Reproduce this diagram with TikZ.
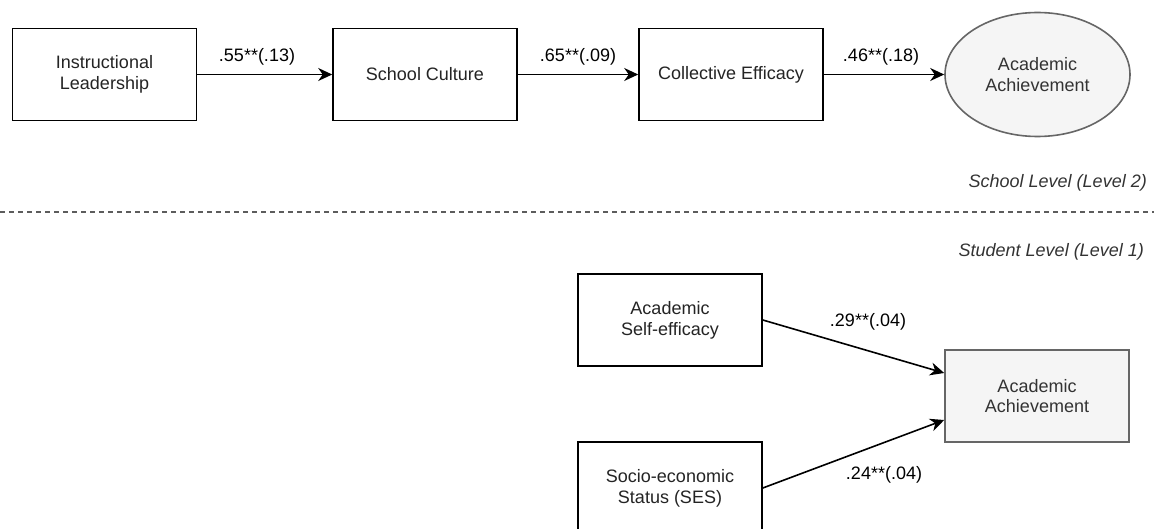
\documentclass[tikz,border=0pt]{standalone}
\usepackage{fontspec}
\setmainfont{Liberation Sans}
\usetikzlibrary{arrows.meta,shapes.geometric}
\definecolor{grayfill}{HTML}{F5F5F5}
\definecolor{grayline}{HTML}{666666}
\definecolor{txtgray}{HTML}{333333}
\begin{document}
\begin{tikzpicture}[x=1pt,y=-1pt,
  every node/.style={font=\fontsize{18}{20.8}\selectfont, inner sep=0pt},
  box/.style={draw=black, line width=1.6pt, fill=white, minimum width=184pt, minimum height=92pt, align=center, text=txtgray!70!black},
  graybox/.style={draw=grayline, line width=1.6pt, fill=grayfill, minimum width=184pt, minimum height=92pt, align=center, text=txtgray},
  grayell/.style={ellipse, draw=grayline, line width=1.6pt, fill=grayfill, minimum width=185pt, minimum height=124pt, align=center, text=txtgray},
  arr/.style={-{Stealth[length=14pt,width=13pt,inset=4.5pt]}, line width=1.6pt, black},
  coef/.style={text=black},
  lvl/.style={font=\fontsize{18}{21.6}\selectfont\itshape, anchor=east, text=txtgray}
]
\useasboundingbox (0,0) rectangle (1154,529);

% School level
\node[box] (il) at (104.5,74.5) {Instructional\\Leadership};
\node[box] (sc) at (425,74.5) {School Culture};
\node[box] (ce) at (731,74.5) {Collective Efficacy};
\node[grayell] (aa1) at (1037.5,74.5) {Academic\\Achievement};

\draw[arr] (il.east) -- (sc.west);
\draw[arr] (sc.east) -- (ce.west);
\draw[arr] (ce.east) -- (aa1.west);

\node[coef] (c1) at (257,57) {.55**(.13)};
\node[coef] (c2) at (578,57) {.65**(.09)};
\node[coef] (c3) at (881,57) {.46**(.18)};

\node[lvl] (lv2) at (1147,183) {School Level (Level 2)};
\coordinate (dl) at (0,212);
\coordinate (dr) at (1154,212);
\draw[grayline!90!black, line width=1.5pt, dash pattern=on 5pt off 4pt] (dl) -- (dr);
\node[lvl] (lv1) at (1144,252) {Student Level (Level 1)};

% Student level
\node[box] (ase) at (670,320) {Academic\\Self-efficacy};
\node[box] (ses) at (670,488) {Socio-economic\\Status (SES)};
\node[graybox] (aa2) at (1037,396) {Academic\\Achievement};

\draw[arr] (ase.east) -- ([yshift=23pt]aa2.west);
\draw[arr] (ses.east) -- ([yshift=-24pt]aa2.west);

\node[coef] (c4) at (868,322) {.29**(.04)};
\node[coef] (c5) at (884,475) {.24**(.04)};
\end{tikzpicture}
\end{document}
